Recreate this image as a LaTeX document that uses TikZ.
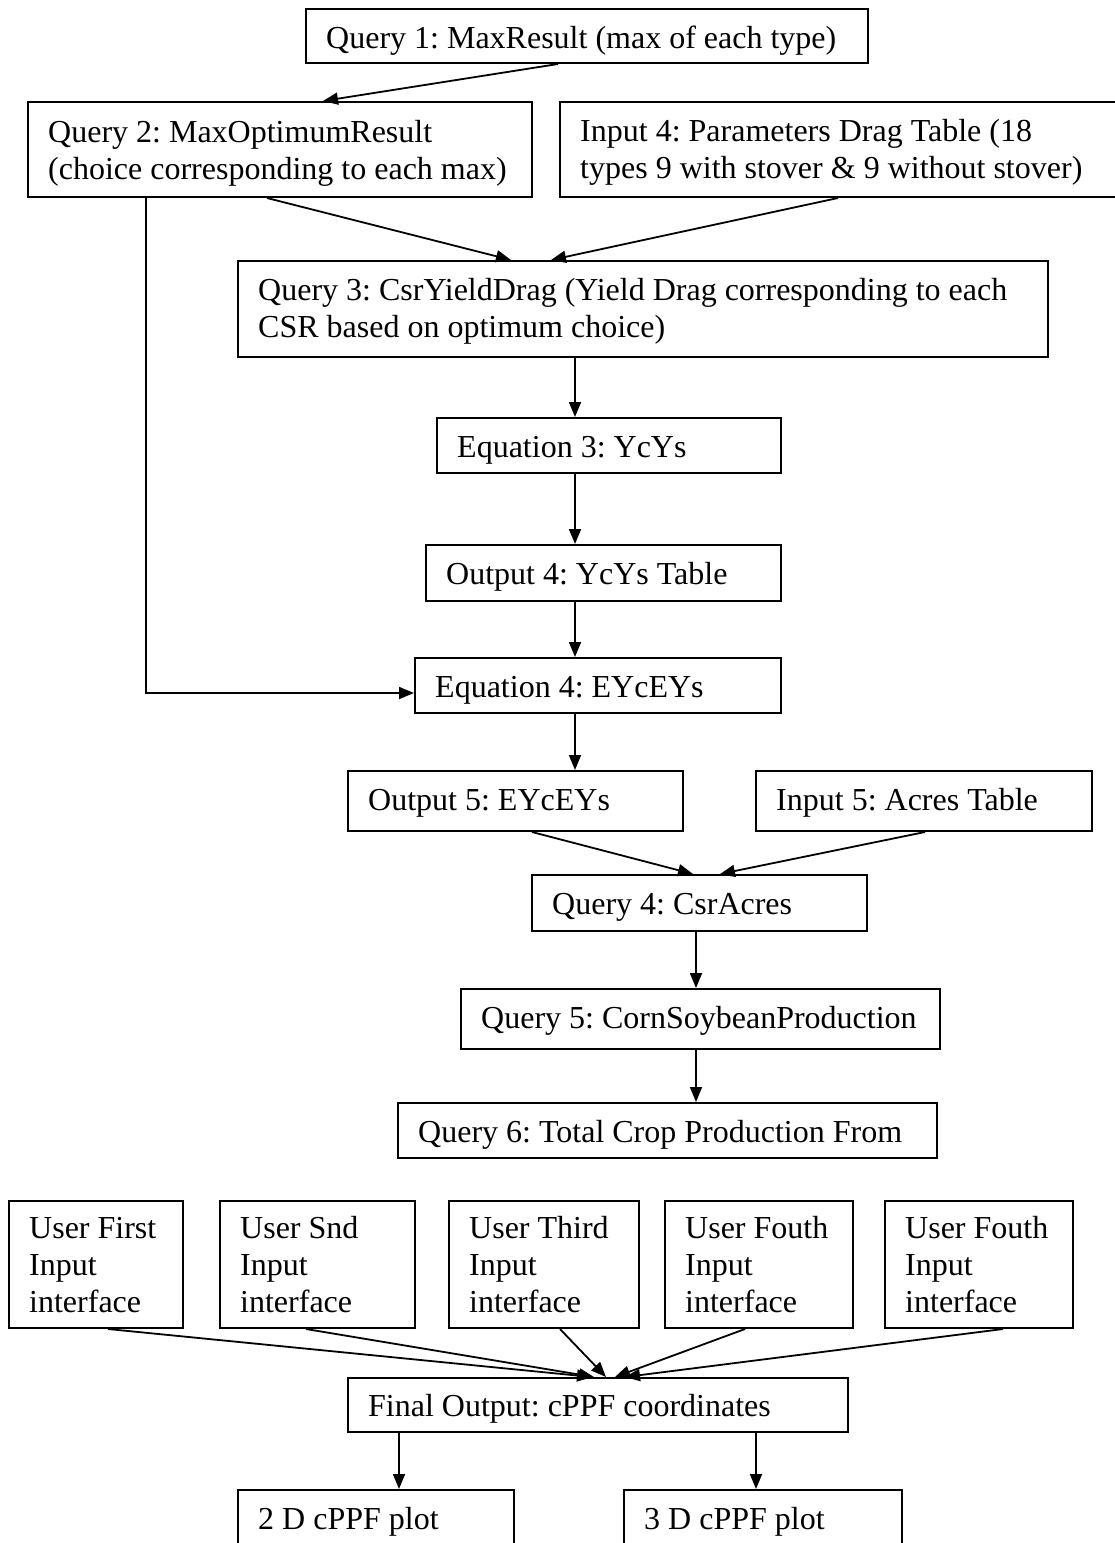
\documentclass[tikz,border=0pt]{standalone}
\usepackage{fontspec}
\setmainfont{Liberation Serif}
\usetikzlibrary{arrows.meta}
\frenchspacing
\begin{document}
\begin{tikzpicture}[x=1pt,y=-1pt,
  box/.style={draw, line width=2pt, inner sep=0pt, rectangle},
  txt/.style={anchor=base west, inner sep=0pt, font=\fontsize{32}{37}\selectfont},
  arr/.style={line width=1.8pt, -{Triangle[length=15pt,width=12pt]}}]
\clip (0,0) rectangle (1115,1543);
% boxes
\node[box, minimum width=562pt, minimum height=54pt] (q1) at (587,36) {};
\node[box, minimum width=504pt, minimum height=95pt] (q2) at (280,149.5) {};
\node[box, minimum width=560pt, minimum height=95pt] (in4) at (840,149.5) {};
\node[box, minimum width=810pt, minimum height=96pt] (q3) at (643,309) {};
\node[box, minimum width=344pt, minimum height=55pt] (eq3) at (609,445.5) {};
\node[box, minimum width=355pt, minimum height=56pt] (out4) at (603.5,573) {};
\node[box, minimum width=366pt, minimum height=55pt] (eq4) at (598,685.5) {};
\node[box, minimum width=335pt, minimum height=60pt] (out5) at (515.5,801) {};
\node[box, minimum width=336pt, minimum height=60pt] (in5) at (924,801) {};
\node[box, minimum width=335pt, minimum height=56pt] (q4) at (699.5,903) {};
\node[box, minimum width=479pt, minimum height=60pt] (q5) at (700.5,1019) {};
\node[box, minimum width=539pt, minimum height=55pt] (q6) at (667.5,1130.5) {};
\node[box, minimum width=174pt, minimum height=127pt] (u1) at (96,1264.5) {};
\node[box, minimum width=195pt, minimum height=127pt] (u2) at (317.5,1264.5) {};
\node[box, minimum width=190pt, minimum height=127pt] (u3) at (544,1264.5) {};
\node[box, minimum width=188pt, minimum height=127pt] (u4) at (759,1264.5) {};
\node[box, minimum width=188pt, minimum height=127pt] (u5) at (979,1264.5) {};
\node[box, minimum width=500pt, minimum height=54pt] (fin) at (598,1405) {};
\node[box, minimum width=276pt, minimum height=90pt] (p2) at (376,1535) {};
\node[box, minimum width=278pt, minimum height=90pt] (p3) at (763,1535) {};
% texts
\node[txt] (q1t) at ([xshift=21pt,yshift=-40pt]q1.north west) {Query 1: MaxResult (max of each type)};
\node[txt] (q2t) at ([xshift=21pt,yshift=-41pt]q2.north west) {\begin{tabular}[t]{@{}l@{}}Query 2: MaxOptimumResult\\(choice corresponding to each max)\end{tabular}};
\node[txt] (in4t) at ([xshift=21pt,yshift=-40pt]in4.north west) {\begin{tabular}[t]{@{}l@{}}Input 4: Parameters Drag Table (18\\types 9 with stover \& 9 without stover)\end{tabular}};
\node[txt] (q3t) at ([xshift=21pt,yshift=-40pt]q3.north west) {\begin{tabular}[t]{@{}l@{}}Query 3: CsrYieldDrag (Yield Drag corresponding to each\\CSR based on optimum choice)\end{tabular}};
\node[txt] (eq3t) at ([xshift=21pt,yshift=-40pt]eq3.north west) {Equation 3: YcYs};
\node[txt] (out4t) at ([xshift=21pt,yshift=-40pt]out4.north west) {Output 4: YcYs Table};
\node[txt] (eq4t) at ([xshift=21pt,yshift=-40pt]eq4.north west) {Equation 4: EYcEYs};
\node[txt] (out5t) at ([xshift=21pt,yshift=-40pt]out5.north west) {Output 5: EYcEYs};
\node[txt] (in5t) at ([xshift=21pt,yshift=-40pt]in5.north west) {Input 5: Acres Table};
\node[txt] (q4t) at ([xshift=21pt,yshift=-40pt]q4.north west) {Query 4: CsrAcres};
\node[txt] (q5t) at ([xshift=21pt,yshift=-40pt]q5.north west) {Query 5: CornSoybeanProduction};
\node[txt] (q6t) at ([xshift=21pt,yshift=-40pt]q6.north west) {Query 6: Total Crop Production From};
\node[txt] (u1t) at ([xshift=21pt,yshift=-38pt]u1.north west) {\begin{tabular}[t]{@{}l@{}}User First\\Input\\interface\end{tabular}};
\node[txt] (u2t) at ([xshift=21pt,yshift=-38pt]u2.north west) {\begin{tabular}[t]{@{}l@{}}User Snd\\Input\\interface\end{tabular}};
\node[txt] (u3t) at ([xshift=21pt,yshift=-38pt]u3.north west) {\begin{tabular}[t]{@{}l@{}}User Third\\Input\\interface\end{tabular}};
\node[txt] (u4t) at ([xshift=21pt,yshift=-38pt]u4.north west) {\begin{tabular}[t]{@{}l@{}}User Fouth\\Input\\interface\end{tabular}};
\node[txt] (u5t) at ([xshift=21pt,yshift=-38pt]u5.north west) {\begin{tabular}[t]{@{}l@{}}User Fouth\\Input\\interface\end{tabular}};
\node[txt] (fint) at ([xshift=21pt,yshift=-39pt]fin.north west) {Final Output: cPPF coordinates};
\node[txt] (p2t) at ([xshift=21pt,yshift=-40pt]p2.north west) {2 D cPPF plot};
\node[txt] (p3t) at ([xshift=21pt,yshift=-40pt]p3.north west) {3 D cPPF plot};
% connectors
\draw[arr] ([xshift=-29pt]q1.south) -- ([xshift=43pt]q2.north);
\draw[arr] ([xshift=-13pt]q2.south) -- ([xshift=-132pt]q3.north);
\draw[arr] ([xshift=-2pt]in4.south) -- ([xshift=-92pt]q3.north);
\draw[arr] ([xshift=-68pt]q3.south) -- ([xshift=-34pt]eq3.north);
\draw[arr] ([xshift=-34pt]eq3.south) -- ([xshift=-28.5pt]out4.north);
\draw[arr] ([xshift=-28.5pt]out4.south) -- ([xshift=-23pt]eq4.north);
\draw[arr] ([xshift=-134pt]q2.south) |- ([yshift=-7.5pt]eq4.west);
\draw[arr] ([xshift=-23pt]eq4.south) -- ([xshift=59.5pt]out5.north);
\draw[arr] ([xshift=16.5pt]out5.south) -- ([xshift=-6.5pt]q4.north);
\draw[arr] ([xshift=1pt]in5.south) -- ([xshift=20.5pt]q4.north);
\draw[arr] ([xshift=-3.5pt]q4.south) -- ([xshift=-4.5pt]q5.north);
\draw[arr] ([xshift=-4.5pt]q5.south) -- ([xshift=28.5pt]q6.north);
\draw[arr] ([xshift=12pt]u1.south) -- ([xshift=-6pt]fin.north);
\draw[arr] ([xshift=-11.5pt]u2.south) -- ([xshift=-4pt]fin.north);
\draw[arr] ([xshift=16pt]u3.south) -- ([xshift=8pt]fin.north);
\draw[arr] ([xshift=-14pt]u4.south) -- ([xshift=17pt]fin.north);
\draw[arr] ([xshift=24pt]u5.south) -- ([xshift=27pt]fin.north);
\draw[arr] ([xshift=-199pt]fin.south) -- ([xshift=23pt]p2.north);
\draw[arr] ([xshift=158pt]fin.south) -- ([xshift=-7pt]p3.north);
\end{tikzpicture}
\end{document}
